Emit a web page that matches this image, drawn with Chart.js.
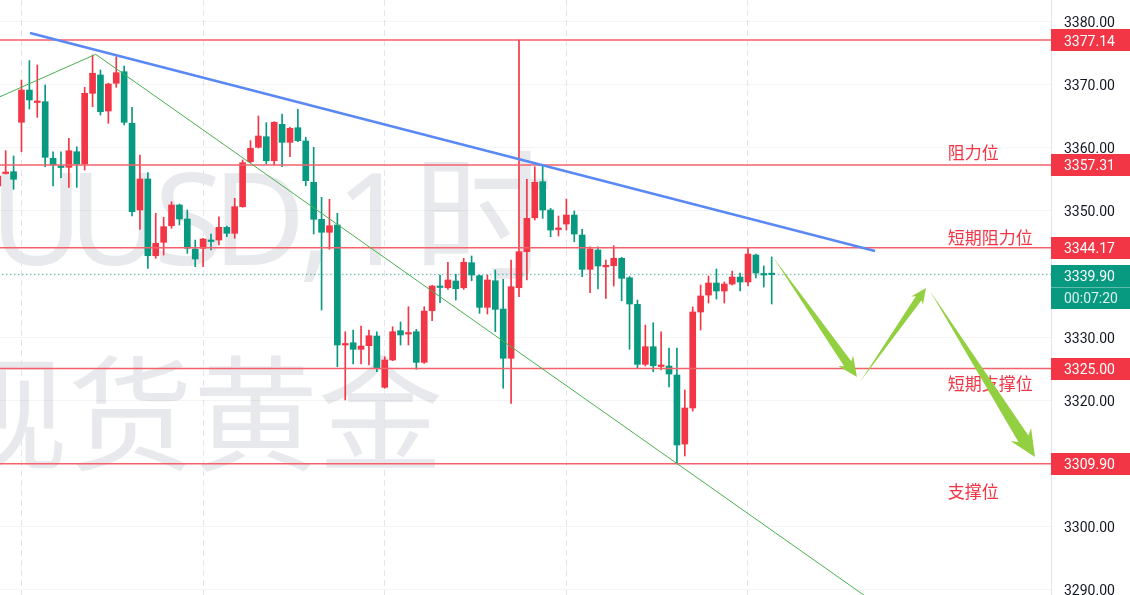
<!DOCTYPE html>
<html><head><meta charset="utf-8">
<script src="https://cdn.jsdelivr.net/npm/chart.js@4.4.1/dist/chart.umd.min.js"></script>
<style>html,body{margin:0;padding:0;background:#fff;overflow:hidden}canvas{display:block}</style>
</head><body>
<canvas id="c" width="1130" height="595"></canvas>
<script>
// ---- data (hourly XAUUSD candles) ----
const openPrices = [3353.97,3355.95,3356.24,3364.08,3369.20,3367.22,3367.35,3358.36,3357.14,3356.93,
3359.41,3357.46,3368.68,3371.59,3365.87,3370.27,3372.11,3363.92,3350.16,3355.08,
3342.90,3345.03,3347.66,3350.95,3348.73,3343.97,3344.08,3345.39,3345.39,3347.41,
3346.46,3350.68,3357.82,3360.11,3361.79,3357.98,3363.76,3360.90,3363.22,3361.11,
3354.55,3348.68,3346.62,3347.78,3328.73,3329.09,3328.05,3328.62,3330.16,3322.01,
3326.35,3331.00,3330.47,3330.84,3325.98,3334.17,3338.09,3337.82,3338.89,3337.82,
3341.79,3339.73,3334.71,3338.93,3334.44,3326.62,3337.82,3343.54,3348.93,3354.65,
3350.16,3347.06,3347.93,3349.36,3346.19,3340.74,3343.81,3341.14,3341.32,3342.49,
3339.40,3335.19,3325.66,3328.46,3325.32,3325.39,3323.97,3313.01,3318.73,3333.97,
3336.66,3338.57,3337.30,3338.41,3339.52,3338.73,3343.01,3340.08,3340.00];
const highPrices = [3356.82,3359.57,3358.73,3370.79,3373.86,3373.17,3370.00,3359.41,3359.41,3361.54,
3360.20,3369.63,3374.76,3372.38,3370.27,3374.49,3373.01,3366.46,3358.89,3356.08,
3349.63,3349.00,3351.47,3351.10,3350.16,3345.39,3345.66,3346.35,3349.09,3347.62,
3352.01,3358.09,3361.16,3365.08,3364.01,3364.17,3365.39,3363.28,3366.14,3361.70,
3360.11,3352.17,3351.86,3349.63,3330.84,3331.11,3331.74,3331.11,3330.84,3326.87,
3331.63,3332.38,3334.81,3331.22,3334.81,3338.20,3339.84,3341.86,3339.95,3342.49,
3342.86,3339.84,3339.84,3340.63,3339.16,3342.22,3377.14,3355.03,3357.03,3357.31,
3350.43,3349.20,3351.90,3350.00,3347.09,3344.33,3344.33,3342.22,3344.49,3342.65,
3339.60,3335.87,3331.90,3332.27,3330.84,3328.25,3328.25,3321.59,3334.76,3338.25,
3339.68,3340.79,3338.73,3340.47,3340.16,3344.17,3343.17,3341.27,3342.70];
const lowPrices = [3353.33,3355.87,3353.44,3359.41,3366.19,3364.87,3357.03,3353.97,3355.28,3353.76,
3353.76,3356.51,3366.55,3365.24,3363.92,3369.63,3363.65,3349.20,3347.09,3340.90,
3342.49,3343.01,3347.25,3347.78,3343.28,3341.16,3341.16,3343.81,3344.60,3345.92,
3345.66,3350.59,3357.66,3360.00,3357.46,3357.30,3357.03,3358.62,3361.00,3354.01,
3346.35,3334.28,3343.92,3325.28,3320.00,3325.71,3325.71,3325.55,3324.49,3321.86,
3326.24,3328.73,3328.73,3324.87,3325.82,3332.59,3335.44,3337.57,3335.87,3337.57,
3338.93,3333.76,3333.65,3330.84,3321.86,3319.47,3336.39,3339.05,3348.57,3348.84,
3345.92,3346.03,3346.98,3345.12,3339.57,3337.03,3337.62,3336.14,3338.09,3335.76,
3328.05,3325.03,3325.39,3324.49,3324.76,3322.06,3309.90,3311.11,3318.25,3331.11,
3335.39,3336.03,3335.39,3338.25,3337.30,3338.09,3339.36,3337.93,3335.24];
const closePrices = [3355.55,3356.19,3355.03,3369.20,3367.62,3367.46,3358.52,3357.30,3356.90,3359.57,
3357.46,3368.68,3371.86,3365.76,3370.16,3371.95,3364.08,3349.89,3355.08,3342.90,
3344.87,3347.51,3350.95,3348.73,3344.08,3342.38,3345.55,3345.16,3347.41,3346.46,
3350.68,3357.66,3359.95,3361.90,3357.98,3364.08,3360.90,3363.12,3361.16,3354.81,
3348.68,3346.62,3347.66,3328.73,3328.97,3328.05,3328.57,3330.20,3325.03,3326.35,
3330.84,3330.32,3330.71,3325.98,3334.12,3338.09,3337.86,3339.05,3337.66,3341.86,
3339.84,3334.71,3339.05,3334.39,3326.62,3337.98,3343.54,3348.84,3354.55,3350.16,
3346.98,3347.30,3349.36,3346.35,3340.74,3343.97,3341.27,3341.35,3342.49,3339.32,
3335.24,3325.66,3328.46,3325.44,3325.55,3324.12,3312.86,3318.73,3333.97,3336.51,
3338.57,3337.30,3338.41,3339.52,3338.73,3343.17,3340.16,3339.84,3339.90];

const priceTicks = [3290,3300,3310,3320,3330,3340,3350,3360,3370,3380];
const timeGridIndex = [3,26,49,72,95];
const levelPrices = [3377.14,3357.31,3344.17,3325.00,3309.90];
const lastPrice = 3339.90;
const countdownText = '00:07:20';
const levelLabels = ['阻力位','短期阻力位','短期支撑位','支撑位'];
const levelLabelPrices = [3359.29,3345.79,3322.62,3305.48];
const levelLabelIndex = 120.3;
const blueTrend = [[4.08,3378.25],[111.08,3343.65]];
const greenTrend = [[0.28,3368.14],[12.40,3374.87],[111.0,3287.86]];
const arrowPaths = [
  [[98.16,3342.70],[108.80,3323.65]],
  [[109.18,3322.86],[117.54,3337.78]],
  [[118.05,3337.30],[131.34,3310.95]]
];
const watermarkSymbol = ['X','A','U','U','S','D',',','1','时'];
const watermarkTitle = '现货黄金';

// ---- styling ----
const UP = '#f23645', DOWN = '#089981';
const LEVEL = '#f5606b';
const ARROW = '#93d041';
const TICKFONT = 'Roboto';
const X_MIN = 0.279, X_MAX = 133.37, Y_MIN = 3289.05, Y_MAX = 3383.49;
// character centres (px from plot-area left) for the symbol watermark
const WM_CENTERS = [-128, -46, 36.5, 115, 189, 259, 316, 372, 483];

const idx = openPrices.map((_, i) => i);
const candleColors = idx.map(i => closePrices[i] >= openPrices[i] ? UP : DOWN);
const bodyData = idx.map(i => ({x: i, y: [openPrices[i], closePrices[i]]}));
const wickData = idx.map(i => ({x: i, y: [lowPrices[i], highPrices[i]]}));

function lineDs(points, color, width, dash) {
  return {type: 'line', data: points.map(p => ({x: p[0], y: p[1]})), borderColor: color,
    borderWidth: width, borderDash: dash || [], pointRadius: 0, pointHoverRadius: 0,
    fill: false, tension: 0, order: 0};
}

const datasets = [
  lineDs(blueTrend, '#5a88f5', 2.5),
  lineDs(greenTrend, '#4caf50', 1),
  ...levelPrices.map(v => lineDs([[-5, v], [140, v]], LEVEL, 1.5)),
  lineDs([[-5, lastPrice], [140, lastPrice]], DOWN, 1, [1, 3]),
  {type: 'bar', data: bodyData, backgroundColor: candleColors, borderWidth: 0,
   barThickness: 6, grouped: false, minBarLength: 1.5, order: 1},
  {type: 'bar', data: wickData, backgroundColor: candleColors, borderWidth: 0,
   barThickness: 1, grouped: false, order: 2}
];

function drawArrow(ctx, x1, y1, x2, y2) {
  const dx = x2 - x1, dy = y2 - y1, L = Math.hypot(dx, dy);
  const ux = dx / L, uy = dy / L, nx = -uy, ny = ux;
  const hl = 0.11 * L, hw = 0.062 * L, sw = 0.03 * L;
  const bx = x2 - ux * hl, by = y2 - uy * hl;
  const back = 0.025 * L;
  ctx.beginPath();
  ctx.moveTo(x1, y1);
  ctx.lineTo(bx + nx * sw, by + ny * sw);
  ctx.lineTo(bx + nx * hw - ux * back, by + ny * hw - uy * back);
  ctx.lineTo(x2, y2);
  ctx.lineTo(bx - nx * hw - ux * back, by - ny * hw - uy * back);
  ctx.lineTo(bx - nx * sw, by - ny * sw);
  ctx.closePath();
  ctx.fill();
}

const decorPlugin = {
  id: 'decor',
  beforeDraw(chart) {
    const {ctx, chartArea: a} = chart;
    ctx.save();
    ctx.beginPath(); ctx.rect(a.left, a.top, a.right - a.left, a.bottom - a.top); ctx.clip();
    ctx.fillStyle = 'rgba(120,123,140,0.17)';
    ctx.textBaseline = 'alphabetic';
    ctx.textAlign = 'center';
    watermarkSymbol.forEach((ch, i) => {
      const cjk = ch === '时';
      ctx.font = cjk ? '140px "Noto Sans CJK SC", sans-serif' : '128px "Noto Sans", sans-serif';
      ctx.fillText(ch, a.left + WM_CENTERS[i], a.top + (cjk ? 268 : 265));
    });
    ctx.font = '125px "Noto Sans CJK SC", sans-serif';
    ctx.textAlign = 'left';
    ctx.fillText(watermarkTitle, a.left - 57, a.top + 461);
    ctx.restore();
  },
  afterDatasetsDraw(chart) {
    const {ctx, chartArea: a, scales: {x, y}} = chart;
    ctx.save();
    ctx.beginPath(); ctx.rect(a.left, a.top, a.right - a.left, a.bottom - a.top); ctx.clip();
    ctx.fillStyle = UP;
    ctx.font = '17px "Noto Sans CJK SC", sans-serif';
    ctx.textAlign = 'left'; ctx.textBaseline = 'middle';
    levelLabels.forEach((t, i) => ctx.fillText(t, x.getPixelForValue(levelLabelIndex), y.getPixelForValue(levelLabelPrices[i])));
    ctx.fillStyle = ARROW;
    arrowPaths.forEach(([p, q]) => drawArrow(ctx,
      x.getPixelForValue(p[0]), y.getPixelForValue(p[1]),
      x.getPixelForValue(q[0]), y.getPixelForValue(q[1])));
    ctx.restore();
  },
  afterDraw(chart) {
    const {ctx, scales: {y}} = chart;
    const left = y.left, w = y.right - y.left, tx = y.left + 13;
    ctx.save();
    ctx.font = '14px ' + TICKFONT;
    ctx.textAlign = 'left'; ctx.textBaseline = 'middle';
    levelPrices.forEach(v => {
      const py = y.getPixelForValue(v);
      ctx.fillStyle = UP;
      ctx.fillRect(left, Math.round(py - 11), w, 22);
      ctx.fillStyle = '#ffffff';
      ctx.fillText(v.toFixed(2), tx, py + 2);
    });
    const py = y.getPixelForValue(lastPrice);
    ctx.fillStyle = DOWN;
    ctx.fillRect(left, Math.round(py - 10), w, 44);
    ctx.fillStyle = 'rgba(255,255,255,0.35)';
    ctx.fillRect(left, Math.round(py + 12), w, 1);
    ctx.fillStyle = '#ffffff';
    ctx.fillText(lastPrice.toFixed(2), tx, py + 2.5);
    ctx.fillStyle = 'rgba(255,255,255,0.85)';
    ctx.fillText(countdownText, tx, py + 24.5);
    ctx.restore();
  }
};

new Chart(document.getElementById('c'), {
  type: 'bar',
  data: {datasets},
  options: {
    responsive: false,
    devicePixelRatio: 1,
    animation: false,
    layout: {padding: 0},
    plugins: {legend: {display: false}, tooltip: {enabled: false}},
    events: [],
    scales: {
      x: {
        type: 'linear', min: X_MIN, max: X_MAX, offset: false,
        grid: {offset: false, drawTicks: false, color: '#e3e5ee', lineWidth: 1},
        border: {display: false, dash: [6, 4]},
        ticks: {display: false},
        afterBuildTicks(s) { s.ticks = timeGridIndex.map(v => ({value: v})); },
        afterFit(s) { s.height = 0; s.paddingLeft = 0; s.paddingRight = 0; }
      },
      y: {
        position: 'right', min: Y_MIN, max: Y_MAX,
        grid: {drawTicks: false, color: 'rgba(42,46,57,0.05)'},
        border: {display: true, color: '#e0e3eb'},
        ticks: {color: '#131722', padding: 13, autoSkip: false, labelOffset: 2,
          font: {family: TICKFONT, size: 14},
          callback: v => Number(v).toFixed(2)},
        afterBuildTicks(s) { s.ticks = priceTicks.map(v => ({value: v})); },
        afterFit(s) { s.width = 79; s.paddingTop = 0; s.paddingBottom = 0; }
      }
    }
  },
  plugins: [decorPlugin]
});
</script>
</body></html>
